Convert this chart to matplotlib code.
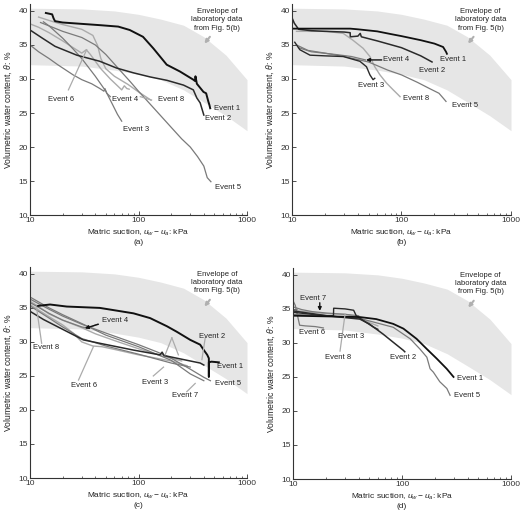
import numpy as np
import matplotlib.pyplot as plt
from matplotlib.ticker import FixedLocator, NullFormatter

plt.rcParams['font.family'] = ['Liberation Sans', 'DejaVu Sans']
plt.rcParams['mathtext.fontset'] = 'custom'
plt.rcParams['mathtext.rm'] = 'Liberation Sans'
plt.rcParams['mathtext.it'] = 'Liberation Sans:italic'

# envelope of laboratory data (suction kPa, water content %)
env_x = [10, 30, 60, 100, 160, 260, 400, 640, 1000]
env_hi = [40.4, 40.3, 40.0, 39.5, 38.8, 37.9, 36.2, 33.5, 29.9]
env_lo = [32.1, 31.9, 31.3, 30.7, 29.9, 28.4, 26.6, 24.6, 22.4]

# panel (a)
a1_x = [14, 16, 16.5, 17, 20, 30, 45, 65, 83, 110, 137, 182, 241, 320, 332, 335, 345, 397, 420, 440, 450, 458]
a1_y = [39.7, 39.5, 38.9, 38.5, 38.3, 38.1, 37.9, 37.7, 37.2, 36.2, 34.5, 32.1, 31.1, 29.9, 29.7, 30.4, 29.3, 28.1, 27.9, 26.7, 26.2, 25.7]
a2_x = [10, 13, 17, 27, 44, 63, 90, 128, 183, 260, 320, 345, 370, 400]
a2_y = [37.2, 36.0, 34.8, 33.5, 32.6, 31.6, 30.9, 30.3, 29.8, 29.1, 28.4, 27.2, 26.5, 24.7]
a3_x = [13.3, 15, 20, 25, 30, 40, 50, 57, 64, 70]
a3_y = [38.4, 37.8, 36.0, 34.4, 33.0, 30.4, 28.2, 26.4, 24.8, 23.8]
a4_x = [10, 12, 15, 18, 25, 30, 37, 44, 48, 49, 51, 55]
a4_y = [35.0, 34.0, 33.0, 32.1, 30.6, 29.9, 29.3, 28.6, 28.2, 28.6, 27.9, 27.4]
a5_x = [12.5, 15, 20, 30, 40, 50, 70, 84, 100, 150, 200, 250, 300, 350, 400, 430, 465]
a5_y = [38.3, 37.8, 37.0, 36.1, 35.0, 33.6, 31.0, 29.6, 28.2, 25.1, 22.9, 21.2, 20.0, 18.6, 17.2, 15.5, 14.9]
a6_x = [10, 12, 15, 20, 25, 30, 33, 36, 45, 55, 65, 70, 74, 78, 82]
a6_y = [38.1, 37.6, 36.8, 35.6, 34.6, 33.8, 34.3, 33.6, 31.5, 30.0, 28.9, 28.4, 29.0, 28.6, 28.5]
a8_x = [12, 15, 20, 30, 38, 42, 45, 50, 60, 80, 100, 130]
a8_y = [39.1, 38.6, 38.0, 37.3, 36.4, 34.9, 33.0, 31.5, 30.4, 29.2, 28.1, 26.9]

# panel (b)
b1_x = [10, 20, 34, 40, 60, 80, 100, 150, 200, 240, 255, 260]
b1_y = [37.4, 37.4, 37.4, 37.3, 37.0, 36.6, 36.3, 35.7, 35.2, 34.7, 34.0, 33.7]
b2_x = [10, 10.5, 11.5, 15, 20, 30, 34, 34.1, 40, 42, 43, 60, 100, 150, 190]
b2_y = [39.0, 38.2, 37.3, 37.1, 37.0, 36.9, 36.8, 36.2, 36.3, 36.7, 36.2, 35.6, 34.6, 33.4, 32.5]
b3_x = [10.6, 11.8, 14.6, 20, 29.4, 41.7, 47.9, 51.5, 55, 57]
b3_y = [35.4, 34.3, 33.5, 33.4, 33.3, 32.6, 31.8, 30.6, 29.9, 30.1]
b4_x = [11.5, 15, 25, 35, 47]
b4_y = [34.6, 34.0, 33.6, 33.3, 32.8]
b5_x = [11, 14, 20, 30, 50, 75, 100, 140, 180, 220, 240, 255]
b5_y = [35.0, 34.2, 33.8, 33.3, 32.5, 31.3, 30.6, 29.5, 28.6, 27.9, 27.2, 26.7]
b8_x = [11, 20.7, 29.4, 36, 44.7, 51.5, 57, 63.6, 73, 84, 93, 97]
b8_y = [37.0, 37.0, 36.7, 35.7, 34.5, 33.3, 31.8, 30.6, 29.4, 28.4, 27.7, 27.4]

# panel (c)
c1_x = [11.9, 15.3, 21.8, 44, 63, 90, 128, 183, 225, 300, 370, 400, 430, 445, 445, 445, 470, 550]
c1_y = [35.3, 35.5, 35.2, 35.0, 34.6, 34.2, 33.5, 32.3, 31.5, 30.3, 29.6, 28.8, 28.1, 27.6, 24.9, 27.0, 27.1, 27.0]
c2_x = [10, 13.3, 20.3, 31, 44, 90, 158, 165, 172, 261, 370, 400]
c2_y = [34.5, 33.3, 31.8, 30.3, 29.8, 28.8, 28.1, 28.5, 28.0, 27.4, 26.9, 26.6]
c3_x = [10, 15, 20, 30, 50, 100, 200, 300]
c3_y = [35.3, 33.5, 32.2, 30.5, 29.4, 28.2, 26.9, 26.3]
c4_x = [10, 15, 20, 30, 35, 40, 42]
c4_y = [35.8, 34.2, 33.2, 32.2, 32.0, 32.5, 32.6]
c5_x = [10, 15, 20, 30, 50, 100, 150, 200, 300, 400, 460]
c5_y = [36.3, 34.8, 33.8, 32.6, 31.3, 29.6, 28.5, 27.6, 26.0, 24.8, 24.3]
c6_x = [10, 15, 20, 25, 30, 38, 46, 60, 100, 200, 280]
c6_y = [35.5, 33.7, 32.5, 31.3, 30.0, 29.4, 29.3, 28.9, 28.1, 27.2, 26.5]
c7_x = [10, 15, 20, 30, 50, 100, 200, 300, 400]
c7_y = [36.6, 35.0, 34.0, 32.7, 31.0, 29.3, 27.3, 25.3, 24.3]
c8_x = [10, 12, 15, 20, 30, 40, 60, 100, 160, 250]
c8_y = [36.0, 35.2, 34.1, 33.2, 32.1, 31.2, 30.2, 29.0, 28.0, 27.2]

# panel (d)
d1_x = [10, 20.3, 41, 58, 83, 103, 136, 169, 208, 257, 297]
d1_y = [34.0, 33.9, 33.8, 33.5, 32.8, 32.1, 30.6, 29.1, 27.7, 26.2, 25.0]
d2_x = [10, 20.3, 41, 50, 67, 83, 103, 106]
d2_y = [34.7, 34.0, 33.5, 32.8, 31.3, 30.1, 28.9, 28.7]
d3_x = [10, 15, 20, 23.5, 23.6, 30, 36, 38, 45, 55, 60]
d3_y = [34.5, 34.2, 34.0, 34.0, 35.1, 35.0, 34.8, 34.0, 33.2, 32.3, 32.0]
d5_x = [10, 20, 41, 83, 119, 146, 169, 181, 194, 222, 258, 276]
d5_y = [34.2, 34.0, 33.6, 32.3, 30.6, 29.1, 27.9, 26.2, 25.7, 24.3, 23.3, 22.3]
d6_x = [10, 10.5, 11, 11.5, 13, 16, 19]
d6_y = [36.2, 35.5, 34.0, 32.6, 32.5, 32.4, 32.2]
d7_x = [10, 12, 15, 20, 30, 40]
d7_y = [35.3, 34.9, 34.6, 34.4, 34.2, 34.0]
d8_x = [10, 15, 20, 30, 40, 50, 60]
d8_y = [34.8, 34.5, 34.3, 34.2, 33.8, 33.0, 32.5]

BLACK = '#111111'
DARK = '#2a2a2a'
MID = '#7a7a7a'
LIGHT = '#ababab'
TXT = '#222222'

panels = [
    ('(a)', [0.0577, 0.584, 0.4173, 0.408],
     [(a8_x, a8_y, LIGHT, 1.0), (a6_x, a6_y, LIGHT, 1.0), (a5_x, a5_y, MID, 0.9),
      (a4_x, a4_y, MID, 0.9), (a3_x, a3_y, MID, 0.9), (a2_x, a2_y, DARK, 1.1),
      (a1_x, a1_y, BLACK, 1.4)]),
    ('(b)', [0.5615, 0.584, 0.4212, 0.408],
     [(b8_x, b8_y, LIGHT, 1.0), (b5_x, b5_y, MID, 0.9), (b4_x, b4_y, MID, 0.9),
      (b3_x, b3_y, DARK, 1.0), (b2_x, b2_y, DARK, 1.1), (b1_x, b1_y, BLACK, 1.3)]),
    ('(c)', [0.0577, 0.0754, 0.4173, 0.408],
     [(c8_x, c8_y, LIGHT, 1.0), (c6_x, c6_y, LIGHT, 1.0), (c7_x, c7_y, MID, 0.9),
      (c5_x, c5_y, MID, 0.9), (c3_x, c3_y, MID, 0.9), (c4_x, c4_y, MID, 0.9),
      (c2_x, c2_y, DARK, 1.1), (c1_x, c1_y, BLACK, 1.4)]),
    ('(d)', [0.5635, 0.0735, 0.4192, 0.408],
     [(d8_x, d8_y, LIGHT, 1.0), (d6_x, d6_y, MID, 0.9), (d7_x, d7_y, MID, 0.9),
      (d5_x, d5_y, MID, 0.9), (d3_x, d3_y, DARK, 1.0), (d2_x, d2_y, DARK, 1.1),
      (d1_x, d1_y, BLACK, 1.3)]),
]

# event labels: (text, x, y)
labels = {
    '(a)': [('Event 1', 500, 25.7), ('Event 2', 410, 24.2), ('Event 3', 72, 22.6),
            ('Event 4', 57, 27.0), ('Event 5', 505, 14.0), ('Event 6', 14.5, 27.0),
            ('Event 8', 150, 27.0)],
    '(b)': [('Event 1', 225, 32.8), ('Event 2', 145, 31.3), ('Event 3', 40, 29.1),
            ('Event 4', 68, 32.8), ('Event 5', 290, 26.1), ('Event 8', 103, 27.1)],
    '(c)': [('Event 1', 527, 26.4), ('Event 2', 360, 30.8), ('Event 3', 107, 24.0),
            ('Event 4', 46, 33.2), ('Event 5', 510, 23.9), ('Event 6', 24, 23.6),
            ('Event 7', 205, 22.2), ('Event 8', 10.7, 29.2)],
    '(d)': [('Event 1', 320, 24.8), ('Event 2', 77, 27.8), ('Event 3', 26, 30.9),
            ('Event 5', 298, 22.2), ('Event 6', 11.3, 31.6), ('Event 7', 11.5, 36.6),
            ('Event 8', 19.5, 27.9)],
}

# leader lines: (x0, y0, x1, y1, colour)
leaders = {
    '(a)': [(22.6, 28.4, 33.3, 34.3, LIGHT), (104, 27.4, 132, 26.9, LIGHT)],
    '(b)': [],
    '(c)': [(28, 24.4, 38.4, 29.3, LIGHT), (12.8, 29.8, 11.5, 35.0, LIGHT),
            (137, 25.0, 170, 26.3, LIGHT), (412, 30.6, 384, 27.4, LIGHT),
            (279, 22.7, 333, 23.9, LIGHT), (203, 30.6, 176, 28.1, LIGHT),
            (203, 30.6, 233, 28.1, LIGHT)],
    '(d)': [(27, 28.8, 30, 34.2, LIGHT)],
}

# black arrows: (x_text, y_text, x_tip, y_tip)
arrows = {
    '(a)': [],
    '(b)': [(66, 32.8, 47.4, 32.8)],
    '(c)': [(42.7, 32.6, 32, 32.0)],
    '(d)': [(17.6, 35.9, 17.6, 34.7)],
}

fig = plt.figure(figsize=(5.2, 5.17), dpi=100)

for name, rect, series in panels:
    ax = fig.add_axes(rect)
    ax.fill_between(env_x, env_lo, env_hi, color='#e6e6e6', lw=0, zorder=0)
    for xs, ys, col, lw in series:
        ax.plot(xs, ys, color=col, lw=lw, zorder=2)
    for t, x, y in labels[name]:
        ax.text(x, y, t, fontsize=5.5, color=TXT, va='center', ha='left', zorder=4)
    for x0, y0, x1, y1, col in leaders[name]:
        ax.plot([x0, x1], [y0, y1], color=col, lw=0.9, zorder=3)
    for x0, y0, x1, y1 in arrows[name]:
        ax.annotate('', xy=(x1, y1), xytext=(x0, y0),
                    arrowprops=dict(arrowstyle='-|>', color=BLACK, lw=1.0,
                                    mutation_scale=5, shrinkA=0, shrinkB=0))
    ax.text(527, 38.7, 'Envelope of\nlaboratory data\nfrom Fig. 5(b)',
            fontsize=5.5, color=TXT, ha='center', va='center', linespacing=1.25)
    ax.annotate('', xy=(405, 35.2), xytext=(455, 36.2),
                arrowprops=dict(arrowstyle='-|>', color='#b0b0b0', lw=1.5,
                                mutation_scale=5, shrinkA=0, shrinkB=0))

    ax.set_xscale('log')
    ax.set_xlim(10, 1000)
    ax.set_ylim(10, 41)
    ax.set_yticks([10, 15, 20, 25, 30, 35, 40])
    ax.xaxis.set_major_locator(FixedLocator([10, 100, 1000]))
    ax.set_xticklabels(['10', '100', '1000'])
    ax.xaxis.set_minor_formatter(NullFormatter())
    for s in ['top', 'right']:
        ax.spines[s].set_visible(False)
    for s in ['left', 'bottom']:
        ax.spines[s].set_color('#333333')
        ax.spines[s].set_linewidth(0.8)
    ax.tick_params(which='major', direction='in', length=3, width=0.6,
                   labelsize=6, colors='#333333', pad=1.5)
    ax.tick_params(which='minor', direction='in', length=1.5, width=0.5, colors='#333333')
    ax.set_xlabel(r'Matric suction, $u_w - u_a$: kPa', fontsize=6, color=TXT)
    ax.xaxis.set_label_coords(0.5, -0.062)
    ax.set_ylabel(r'Volumetric water content, $\theta$: %', fontsize=6.2, color=TXT, labelpad=3)
    ax.text(0.5, -0.128, name, transform=ax.transAxes, fontsize=6,
            color=TXT, ha='center', va='center')

fig.savefig('out.png', dpi=100)
